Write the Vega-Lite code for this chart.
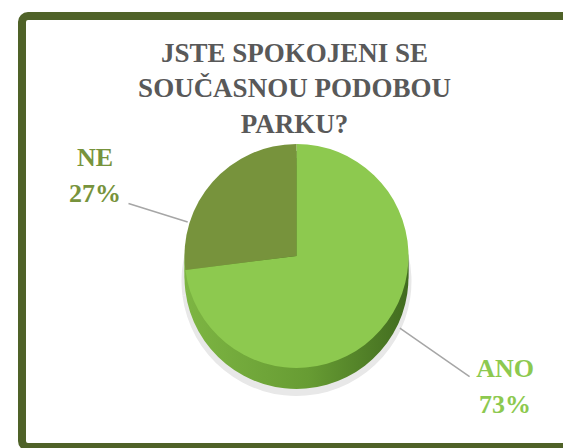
{
  "$schema": "https://vega.github.io/schema/vega-lite/v6.json",
  "width": 563,
  "height": 448,
  "autosize": {"type": "fit", "contains": "padding"},
  "padding": {"left": 18, "top": 12, "right": -12, "bottom": -3},
  "background": "white",
  "config": {"view": {"stroke": null}},
  "title": {
    "text": ["JSTE SPOKOJENI SE", "SOUČASNOU PODOBOU", "PARKU?"],
    "font": "Liberation Serif",
    "fontWeight": "bold",
    "fontSize": 27,
    "lineHeight": 35.5,
    "color": "#595959",
    "anchor": "middle",
    "offset": -126.5,
    "dx": -2
  },
  "data": {
    "values": [
      {"odpoved": "ANO", "podil": 73, "popisek": "ANO\n73%"},
      {"odpoved": "NE", "podil": 27, "popisek": "NE\n27%"}
    ]
  },
  "layer": [
    {
      "data": {"values": [{"ramecek": 1}]},
      "mark": {"type": "rect", "fill": null, "stroke": "#4F6228", "strokeWidth": 8, "cornerRadius": 6},
      "encoding": {}
    },
    {
      "mark": {"type": "arc", "radius": 115, "yOffset": 49.5, "fill": "#e8e8e8"},
      "encoding": {"theta": {"field": "podil", "type": "quantitative", "stack": true}}
    },
    {
      "mark": {"type": "arc", "radius": 112, "yOffset": 45.5, "fill": {"gradient": "linear", "x1": 0, "x2": 1, "y1": 0, "y2": 0, "stops": [{"offset": 0, "color": "#7DB543"}, {"offset": 0.55, "color": "#679C33"}, {"offset": 1, "color": "#416B1F"}]}},
      "encoding": {"theta": {"field": "podil", "type": "quantitative", "stack": true}}
    },
    {
      "mark": {"type": "arc", "radius": 112, "yOffset": 38.5, "fill": {"gradient": "linear", "x1": 0, "x2": 1, "y1": 0, "y2": 0, "stops": [{"offset": 0, "color": "#7DB543"}, {"offset": 0.55, "color": "#679C33"}, {"offset": 1, "color": "#416B1F"}]}},
      "encoding": {"theta": {"field": "podil", "type": "quantitative", "stack": true}}
    },
    {
      "mark": {"type": "arc", "radius": 112, "yOffset": 31.5, "fill": {"gradient": "linear", "x1": 0, "x2": 1, "y1": 0, "y2": 0, "stops": [{"offset": 0, "color": "#7DB543"}, {"offset": 0.55, "color": "#679C33"}, {"offset": 1, "color": "#416B1F"}]}},
      "encoding": {"theta": {"field": "podil", "type": "quantitative", "stack": true}}
    },
    {
      "mark": {"type": "arc", "radius": 112, "yOffset": 24.5},
      "encoding": {
        "theta": {"field": "podil", "type": "quantitative", "stack": true},
        "color": {"field": "odpoved", "type": "nominal", "scale": {"domain": ["ANO", "NE"], "range": ["#8DC94F", "#77933C"]}, "legend": null}
      }
    },
    {
      "mark": {"type": "arc", "radius": 176, "radius2": 114, "padAngle": 3, "thetaOffset": -0.42, "yOffset": 24.5, "fillOpacity": 0, "stroke": "#A6A6A6", "strokeWidth": 1.5},
      "encoding": {
        "theta": {"field": "podil", "type": "quantitative", "stack": true},
        "strokeOpacity": {"condition": {"test": "datum.odpoved === 'NE'", "value": 1}, "value": 0}
      }
    },
    {
      "mark": {"type": "arc", "radius": 211, "radius2": 126, "padAngle": 3, "thetaOffset": 3.028, "yOffset": 24.5, "fillOpacity": 0, "stroke": "#A6A6A6", "strokeWidth": 1.5},
      "encoding": {
        "theta": {"field": "podil", "type": "quantitative", "stack": true},
        "strokeOpacity": {"condition": {"test": "datum.odpoved === 'NE'", "value": 1}, "value": 0}
      }
    },
    {
      "mark": {"type": "text", "radius": 150, "yOffset": 24.5, "dx": -89, "dy": 1, "font": "Liberation Serif", "fontWeight": "bold", "fontSize": 26, "lineBreak": "\n", "lineHeight": 36, "align": "center", "baseline": "middle"},
      "encoding": {
        "theta": {"field": "podil", "type": "quantitative", "stack": true},
        "color": {"field": "odpoved", "type": "nominal", "scale": {"domain": ["ANO", "NE"], "range": ["#8DC94F", "#77933C"]}, "legend": null},
        "text": {"condition": {"test": "datum.odpoved === 'NE'", "field": "popisek"}, "value": ""}
      }
    },
    {
      "mark": {"type": "text", "radius": 150, "yOffset": 24.5, "dx": 96, "dy": 14, "font": "Liberation Serif", "fontWeight": "bold", "fontSize": 26, "lineBreak": "\n", "lineHeight": 36, "align": "center", "baseline": "middle"},
      "encoding": {
        "theta": {"field": "podil", "type": "quantitative", "stack": true},
        "color": {"field": "odpoved", "type": "nominal", "scale": {"domain": ["ANO", "NE"], "range": ["#8DC94F", "#77933C"]}, "legend": null},
        "text": {"condition": {"test": "datum.odpoved === 'ANO'", "field": "popisek"}, "value": ""}
      }
    }
  ]
}
